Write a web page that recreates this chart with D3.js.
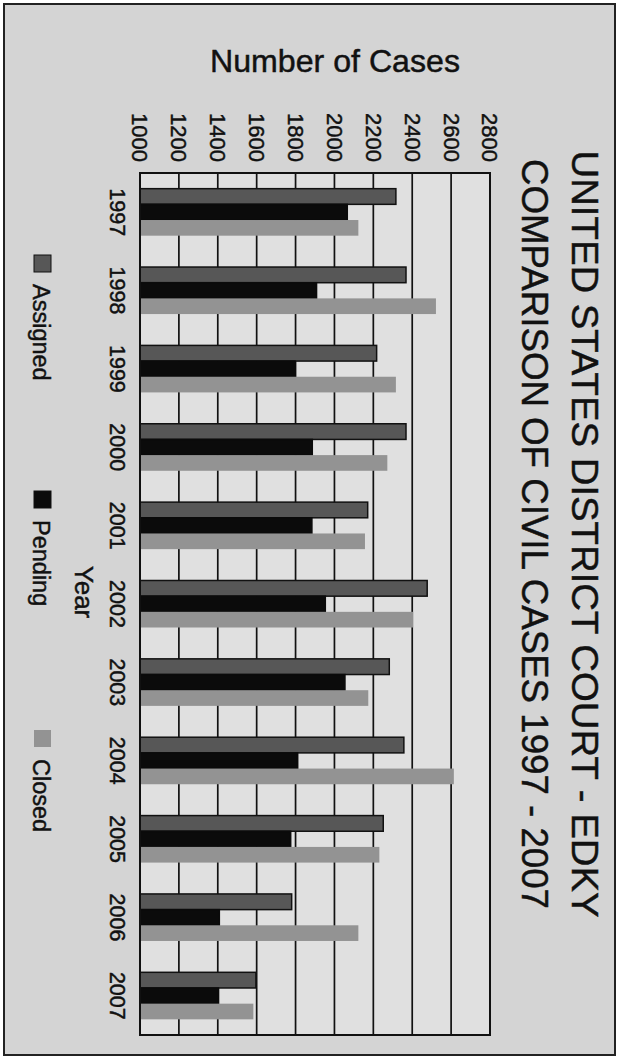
<!DOCTYPE html>
<html>
<head>
<meta charset="utf-8">
<script src="https://cdn.jsdelivr.net/npm/d3@7"></script>
<style>
  html, body { margin: 0; padding: 0; background: #ffffff; }
  svg { display: block; }
  text { font-family: "Liberation Sans", Arial, sans-serif; fill: #111; stroke: #111; stroke-width: 0.45px; }
</style>
</head>
<body>
<svg id="chart" width="619" height="1060"></svg>
<script>
// ---- data ----
const years = ["1997","1998","1999","2000","2001","2002","2003","2004","2005","2006","2007"];
const seriesNames = ["Assigned","Pending","Closed"];
const assigned = [2316, 2368, 2217, 2368, 2171, 2477, 2282, 2357, 2251, 1780, 1596];
const pending  = [2066, 1908, 1797, 1886, 1884, 1953, 2054, 1811, 1775, 1408, 1404];
const closed   = [2123, 2522, 2316, 2272, 2157, 2405, 2174, 2614, 2231, 2123, 1583];
const valueTicks = [1000,1200,1400,1600,1800,2000,2200,2400,2600,2800];
const titleLines = ["UNITED STATES DISTRICT COURT - EDKY", "COMPARISON OF CIVIL CASES 1997 - 2007"];

// ---- styles ----
const fills = {Assigned: "#575757", Pending: "#0b0b0b", Closed: "#939393"};
const strokes = {Assigned: "#111", Pending: "#0b0b0b", Closed: "none"};

const W = 619, H = 1060;
const svg = d3.select("#chart");

// page background and outer border
svg.append("rect").attr("x",0).attr("y",0).attr("width",W).attr("height",H).attr("fill","#ffffff");
svg.append("rect").attr("x",4).attr("y",4).attr("width",611).attr("height",1051)
   .attr("fill","#d4d4d4").attr("stroke","#222").attr("stroke-width",2);

// The chart is drawn as an ordinary column chart, then the whole thing is turned 90° clockwise.
const g = svg.append("g").attr("transform", `translate(${W},0) rotate(90)`);

const plot = {left: 173, right: 1035, top: 129, bottom: 479};

const x = d3.scaleBand().domain(years).range([plot.left, plot.right]).padding(0);
const groupFrac = 0.6;
const xs = d3.scaleBand().domain(seriesNames)
  .range([0, x.bandwidth()*groupFrac]).padding(0);
const groupOffset = x.bandwidth()*(1-groupFrac)/2;
const y = d3.scaleLinear().domain([1000, 2800]).range([plot.bottom, plot.top]);

// plot background
g.append("rect").attr("x",plot.left).attr("y",plot.top)
  .attr("width",plot.right-plot.left).attr("height",plot.bottom-plot.top)
  .attr("fill","#e0e0e0");

// gridlines
g.append("g").selectAll("line").data(valueTicks).join("line")
  .attr("x1",plot.left).attr("x2",plot.right)
  .attr("y1",d=>y(d)).attr("y2",d=>y(d))
  .attr("stroke","#111").attr("stroke-width",1.7);

// bars
const table = years.map((yr,i)=>({year: yr, Assigned: assigned[i], Pending: pending[i], Closed: closed[i]}));
const groups = g.append("g").selectAll("g").data(table).join("g")
  .attr("transform", d=>`translate(${x(d.year)+groupOffset},0)`);
groups.selectAll("rect").data(d=>seriesNames.map(s=>({s, v:d[s]}))).join("rect")
  .attr("x", d=>xs(d.s))
  .attr("width", xs.bandwidth())
  .attr("y", d=>y(d.v))
  .attr("height", d=>plot.bottom - y(d.v))
  .attr("fill", d=>fills[d.s])
  .attr("stroke", d=>strokes[d.s])
  .attr("stroke-width", 1.5);

// plot frame
g.append("rect").attr("x",plot.left).attr("y",plot.top)
  .attr("width",plot.right-plot.left).attr("height",plot.bottom-plot.top)
  .attr("fill","none").attr("stroke","#111").attr("stroke-width",2);

// value axis (left of column chart -> top of page)
const yAxis = g.append("g").attr("transform",`translate(${plot.left},0)`)
  .call(d3.axisLeft(y).tickValues(valueTicks).tickFormat(d3.format("d")).tickSize(0).tickPadding(11));
yAxis.select(".domain").remove();
yAxis.selectAll("text").attr("font-size",22).attr("font-family",'"Liberation Sans", Arial, sans-serif').attr("fill","#111");

// category axis (bottom -> left of page)
const xAxis = g.append("g").attr("transform",`translate(0,${plot.bottom})`)
  .call(d3.axisBottom(x).tickSize(0).tickPadding(15));
xAxis.select(".domain").remove();
xAxis.selectAll("text").attr("font-size",21.5).attr("font-family",'"Liberation Sans", Arial, sans-serif').attr("fill","#111");

// axis titles
g.append("text").attr("transform",`translate(72,${W-335}) rotate(-90)`)
  .attr("text-anchor","middle").attr("font-size",31)
  .attr("textLength",250).attr("lengthAdjust","spacingAndGlyphs")
  .text("Number of Cases");
g.append("text").attr("x",592).attr("y",W-75)
  .attr("text-anchor","middle").attr("font-size",26).text("Year");

// chart title
const titleBase = [W-572, W-522];
const titleLen = [767, 750];
g.selectAll("text.title").data(titleLines).join("text").attr("class","title")
  .attr("x",534).attr("y",(d,i)=>titleBase[i])
  .attr("text-anchor","middle").attr("font-size",37)
  .attr("textLength",(d,i)=>titleLen[i]).attr("lengthAdjust","spacingAndGlyphs")
  .text(d=>d);

// legend
const legendX = [255, 491, 730];
const legBase = W - 33;
const leg = g.append("g").selectAll("g").data(seriesNames).join("g")
  .attr("transform",(d,i)=>`translate(${legendX[i]},0)`);
leg.append("rect").attr("x",0).attr("y",legBase-18).attr("width",17).attr("height",17)
  .attr("fill",d=>fills[d]).attr("stroke",d=>d==="Closed"?"none":"#111").attr("stroke-width",1);
leg.append("text").attr("x",29).attr("y",legBase).attr("font-size",23.5).text(d=>d);
</script>
</body>
</html>
